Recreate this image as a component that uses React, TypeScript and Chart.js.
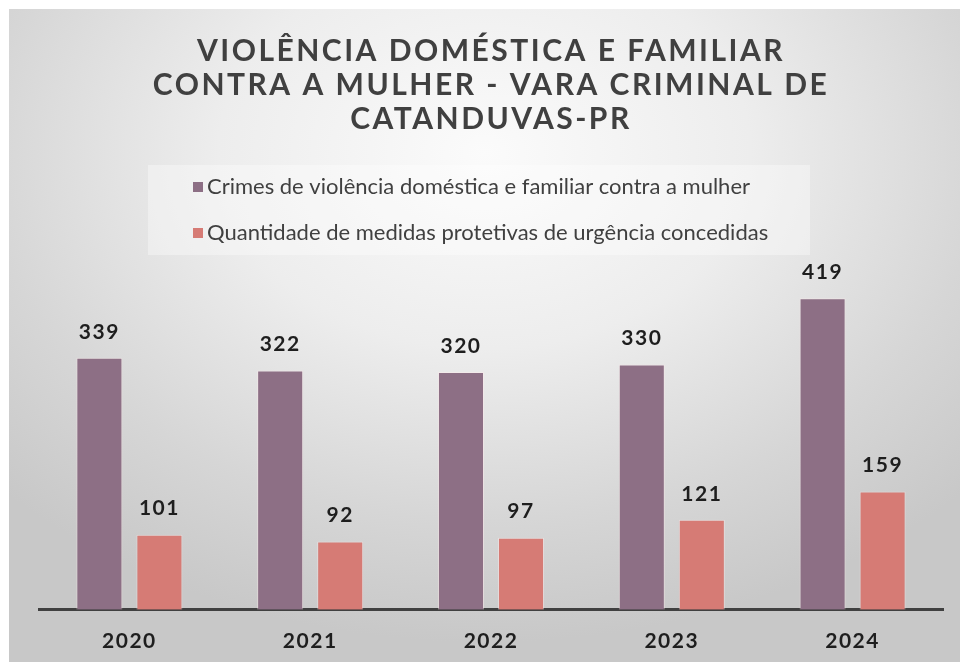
import React, { useEffect, useRef } from "react";
import { Chart, registerables } from "chart.js";

Chart.register(...registerables);

const years = ["2020", "2021", "2022", "2023", "2024"];
const crimes = [339, 322, 320, 330, 419];
const medidas = [101, 92, 97, 121, 159];
const seriesLabels = [
  "Crimes de violência doméstica e familiar contra a mulher",
  "Quantidade de medidas protetivas de urgência concedidas",
];
const titleLines = [
  "VIOLÊNCIA DOMÉSTICA E FAMILIAR",
  "CONTRA A MULHER - VARA CRIMINAL DE",
  "CATANDUVAS-PR",
];
const colors = ["#8D6F85", "#D67B75"];

const spacingPlugin = {
  id: "spacing",
  beforeDraw(chart: any) {
    try {
      (chart.ctx as any).letterSpacing = "2.5px";
    } catch (e) {}
  },
};

const legendPlugin = {
  id: "boxLegend",
  beforeDatasetsDraw(chart: any) {
    const ctx = chart.ctx;
    ctx.save();
    try {
      (ctx as any).letterSpacing = "0px";
    } catch (e) {}
    ctx.fillStyle = "rgba(255,255,255,0.35)";
    ctx.fillRect(139, 156, 662, 90);
    ctx.font = "22px Lato";
    ctx.textBaseline = "middle";
    ctx.textAlign = "left";
    chart.data.datasets.forEach((ds: any, i: number) => {
      const y = 178 + i * 46;
      ctx.fillStyle = ds.backgroundColor;
      ctx.fillRect(184, y - 5, 10, 10);
      ctx.fillStyle = "#404040";
      ctx.fillText(ds.label, 198, y);
    });
    ctx.restore();
  },
};

const valueLabelPlugin = {
  id: "valueLabels",
  afterDatasetsDraw(chart: any) {
    const ctx = chart.ctx;
    ctx.save();
    ctx.font = "bold 21px Lato";
    ctx.fillStyle = "#1e1e1e";
    ctx.textAlign = "center";
    ctx.textBaseline = "middle";
    try {
      (ctx as any).letterSpacing = "1.5px";
    } catch (e) {}
    chart.data.datasets.forEach((ds: any, i: number) => {
      const meta = chart.getDatasetMeta(i);
      meta.data.forEach((bar: any, j: number) => {
        ctx.fillText(String(ds.data[j]), bar.x, bar.y - 26);
      });
    });
    ctx.restore();
    try {
      (ctx as any).letterSpacing = "1.5px";
    } catch (e) {}
  },
};

export default function App() {
  const ref = useRef<HTMLCanvasElement>(null);
  useEffect(() => {
    if (!ref.current) return;
    const chart = new Chart(ref.current, {
      type: "bar",
      data: {
        labels: years,
        datasets: [
          {
            label: seriesLabels[0],
            data: crimes,
            backgroundColor: colors[0],
            borderColor: "rgba(255,235,235,0.45)",
            borderWidth: 1,
          },
          {
            label: seriesLabels[1],
            data: medidas,
            backgroundColor: colors[1],
            borderColor: "rgba(255,235,235,0.45)",
            borderWidth: 1,
          },
        ],
      },
      options: {
        responsive: false,
        animation: false,
        layout: { padding: { left: 30, right: 17, top: 0, bottom: 9 } },
        datasets: {
          bar: { categoryPercentage: 0.664, barPercentage: 0.767 },
        },
        plugins: {
          legend: { display: false },
          tooltip: { enabled: false },
          title: {
            display: true,
            text: titleLines,
            color: "#404040",
            font: { family: "Lato", size: 30, weight: "bold", lineHeight: 1.12 },
            padding: { top: 26, bottom: 132 },
          },
        },
        scales: {
          x: {
            grid: { display: false, drawTicks: false },
            border: { display: true, color: "#404040", width: 3 },
            ticks: {
              z: 1,
              color: "#1e1e1e",
              padding: 19,
              font: { family: "Lato", size: 21, weight: "bold", lineHeight: 1.2 },
            },
          },
          y: {
            display: false,
            min: 0,
            max: 460,
          },
        },
      },
      plugins: [spacingPlugin, legendPlugin, valueLabelPlugin],
    });
    return () => chart.destroy();
  }, []);

  return (
    <div
      style={{
        position: "absolute",
        left: 9,
        top: 9,
        width: 951,
        height: 653,
        overflow: "hidden",
        background:
          "radial-gradient(ellipse 70% 75% at 50% 22%, #fbfbfb 0%, #ededed 40%, #d6d6d6 75%, #c8c8c8 100%)",
      }}
    >
      <canvas ref={ref} width={951} height={673} style={{ display: "block" }} />
    </div>
  );
}
